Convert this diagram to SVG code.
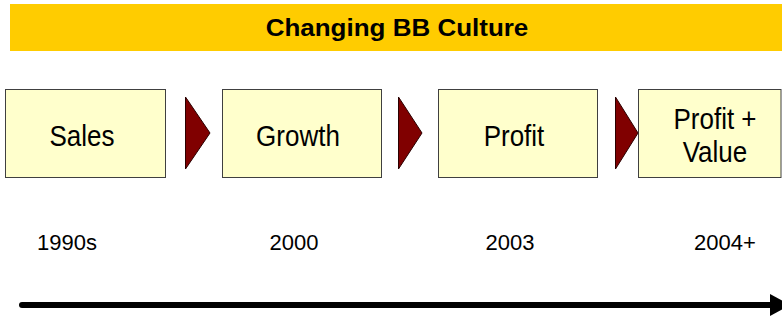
<svg xmlns="http://www.w3.org/2000/svg" width="782" height="320" viewBox="0 0 782 320">
<style>
.box{fill:#FFFFCC;stroke:#404040;stroke-width:1}
.tri{fill:#800000;stroke:#2a0000;stroke-width:1}
.lbl{font-family:"Liberation Sans",Arial,sans-serif;font-size:26px;fill:#000;text-anchor:middle}
.yr{font-family:"Liberation Sans",Arial,sans-serif;font-size:22px;fill:#000;text-anchor:middle}
.ttl{font-family:"Liberation Sans",Arial,sans-serif;font-size:25px;font-weight:bold;fill:#000;text-anchor:middle}
</style>
<defs>
<marker id="ah" markerWidth="4" markerHeight="4" refX="0" refY="2" orient="auto" markerUnits="strokeWidth">
<path d="M0,0 L4,2 L0,4 Z" fill="#000"/>
</marker>
</defs>
<g id="banner">
<rect x="10" y="4" width="772" height="47" fill="#FFCC00"/>
<text class="ttl" x="397" y="36" transform="translate(397,36) scale(1.04,0.96) translate(-397,-36)">Changing BB Culture</text>
</g>
<g id="sales">
<rect class="box" x="5.5" y="89.5" width="160" height="88"/>
<text class="lbl" x="82" y="146" transform="translate(82,146) scale(1,1.1) translate(-82,-146)">Sales</text>
</g>
<g id="growth">
<rect class="box" x="222.5" y="89.5" width="159" height="88"/>
<text class="lbl" x="298" y="146" transform="translate(298,146) scale(1,1.1) translate(-298,-146)">Growth</text>
</g>
<g id="profit">
<rect class="box" x="438.5" y="89.5" width="159" height="88"/>
<text class="lbl" x="514" y="146" transform="translate(514,146) scale(1,1.1) translate(-514,-146)">Profit</text>
</g>
<g id="profitvalue">
<rect class="box" x="638.5" y="89.5" width="142.5" height="88"/>
<text class="lbl" x="715" y="129" transform="translate(715,129) scale(1,1.1) translate(-715,-129)">Profit +</text>
<text class="lbl" x="715" y="162" transform="translate(715,162) scale(1,1.1) translate(-715,-162)">Value</text>
</g>
<g id="connectors">
<polygon class="tri" points="185.5,97 210,133 185.5,169"/>
<polygon class="tri" points="398.5,97 422,133 398.5,169"/>
<polygon class="tri" points="615.5,97 638,133 615.5,169"/>
<line x1="22" y1="305" x2="771" y2="305" stroke="#000" stroke-width="6" stroke-linecap="round"/>
<polygon points="770,294 790,305 770,316" fill="#000"/>
</g>
<g id="years">
<text class="yr" x="67" y="250">1990s</text>
<text class="yr" x="294" y="250">2000</text>
<text class="yr" x="510" y="250">2003</text>
<text class="yr" x="725" y="250">2004+</text>
</g>
</svg>
